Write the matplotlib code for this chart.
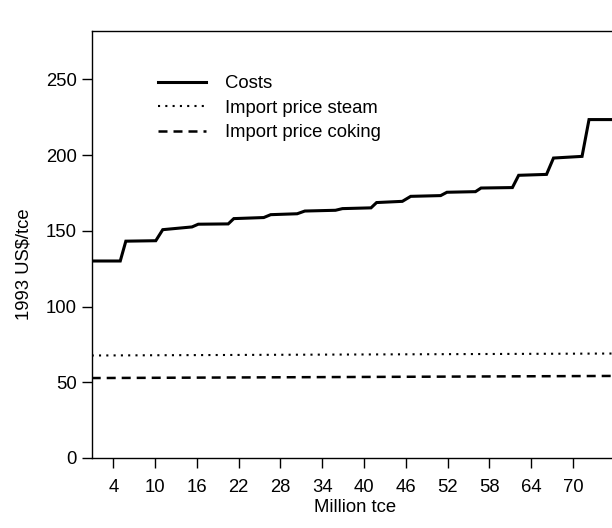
import matplotlib
matplotlib.use("Agg")
import matplotlib.pyplot as plt

plt.rcParams['font.family'] = ['Liberation Sans', 'DejaVu Sans']

# Cost curve (Million tce, 1993 US$/tce)
cost_x = [0.9, 5.0, 5.8, 10.1, 11.1, 15.3, 16.2, 20.5, 21.3, 25.6, 26.6, 30.4, 31.5,
          35.9, 36.9, 41.0, 41.8, 45.5, 46.7, 51.0, 51.9, 56.0, 56.8, 61.3, 62.2,
          66.2, 67.2, 71.3, 72.3, 76.0]
cost_y = [130.1, 130.1, 143.2, 143.5, 150.8, 152.6, 154.4, 154.6, 158.1, 158.8, 160.7,
          161.3, 163.1, 163.6, 164.7, 165.2, 168.7, 169.5, 172.8, 173.3, 175.5, 175.9,
          178.3, 178.6, 186.7, 187.3, 198.1, 199.2, 223.5, 223.5]

steam_x = [0.9, 76.0]
steam_y = [67.7, 69.0]
coking_x = [0.9, 76.0]
coking_y = [52.8, 54.2]

xticks = [4, 10, 16, 22, 28, 34, 40, 46, 52, 58, 64, 70]
yticks = [0, 50, 100, 150, 200, 250]

W, H = 612, 528
fig = plt.figure(figsize=(W / 100, H / 100), dpi=100)
left, right, top, bottom = 91.7, 612, 31, 458
ax = fig.add_axes([left / W, (H - bottom) / H, (right - left) / W, (bottom - top) / H])

ax.plot(cost_x, cost_y, color='black', lw=2.2, label='Costs', solid_joinstyle='miter')
ax.plot(steam_x, steam_y, color='black', lw=1.5, linestyle=(0, (1, 2.5)),
        label='Import price steam')
ax.plot(coking_x, coking_y, color='black', lw=1.8, linestyle=(0, (3.6, 2.4)),
        label='Import price coking')

ax.set_xlim(0.9, 75.6)
ax.set_ylim(0, 282)
ax.set_xticks(xticks)
ax.set_yticks(yticks)
ax.tick_params(direction='out', length=7, width=1, labelsize=13.3)
ax.tick_params(axis='y', pad=3.5)
ax.tick_params(axis='x', pad=8)
ax.spines['right'].set_visible(False)
for s in ['left', 'top', 'bottom']:
    ax.spines[s].set_linewidth(1.0)

ax.set_xlabel('Million tce', fontsize=13.3)
ax.set_ylabel('1993 US$/tce', fontsize=13.3)
ax.xaxis.set_label_coords((355 - left) / (right - left), (bottom - 499) / (bottom - top))
ax.yaxis.set_label_coords((33 - left) / (right - left), (bottom - 264) / (bottom - top))

ax.legend(loc='upper left', bbox_to_anchor=(0.1274, 0.897), frameon=False,
          fontsize=13.3, handlelength=2.6, handletextpad=1.05, labelspacing=0.41,
          borderpad=0, borderaxespad=0)

fig.savefig('out.png', dpi=100)
